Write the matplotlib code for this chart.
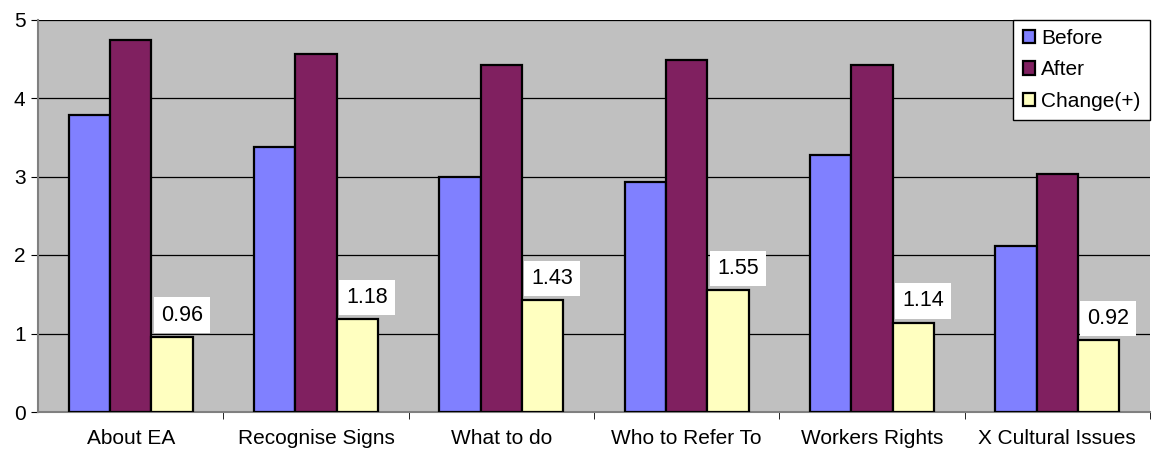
import numpy as np
import matplotlib
matplotlib.use('Agg')
from matplotlib import pyplot as plt

plt.rcParams['font.family'] = ['Liberation Sans', 'DejaVu Sans']

########
# DATA #
########

categories = ['About EA', 'Recognise Signs', 'What to do',
              'Who to Refer To', 'Workers Rights', 'X Cultural Issues']
before = [3.78, 3.38, 2.99, 2.93, 3.28, 2.11]
after = [4.74, 4.56, 4.42, 4.48, 4.42, 3.03]
change = [0.96, 1.18, 1.43, 1.55, 1.14, 0.92]

series_names = ['Before', 'After', 'Change(+)']
colors = ['#8080FF', '#802060', '#FFFFC0']

########
# PLOT #
########

fig = plt.figure(figsize=(11.52, 4.53), dpi=100)
ax = fig.add_axes([38/1152, 41/453, 1112/1152, 392.5/453])
ax.set_facecolor('#C0C0C0')

x = np.arange(len(categories))
w = 0.223
for i, (vals, col, name) in enumerate(zip([before, after, change],
                                            colors, series_names)):
    ax.bar(x + (i - 1) * w, vals, width=w, color=col, edgecolor='black',
           linewidth=1.6, label=name, zorder=3)

# value labels above the change bars
for xi, v in zip(x, change):
    ax.annotate('%.2f' % v, (xi + w, v), xytext=(7, 8),
                textcoords='offset points', ha='center', va='bottom',
                fontsize=15.5,
                bbox=dict(boxstyle='square,pad=0.33', fc='white', ec='none'),
                zorder=4)

ax.set_xlim(-0.5, len(categories) - 0.5)
ax.set_ylim(0, 5)
ax.set_yticks(range(6))
ax.yaxis.grid(True, color='black', linewidth=0.9, zorder=0)
ax.set_axisbelow(True)

# category names centred, ticks at the boundaries
ax.set_xticks(x)
ax.set_xticklabels(categories, fontsize=15)
ax.tick_params(axis='x', length=0, pad=12)
ax.set_xticks(np.arange(len(categories)) + 0.5, minor=True)
ax.tick_params(axis='x', which='minor', length=5, direction='out',
               color='black')
ax.tick_params(axis='y', length=5, direction='out', labelsize=15, pad=4)

for s in ['top', 'right']:
    ax.spines[s].set_visible(False)
ax.spines['left'].set_color('#808080')
ax.spines['left'].set_linewidth(1.5)
ax.spines['bottom'].set_color('#808080')
ax.spines['bottom'].set_linewidth(1.5)

leg = ax.legend(loc='upper right', fontsize=15, frameon=True, fancybox=False,
                framealpha=1, edgecolor='black', handlelength=0.6,
                handleheight=0.6, handletextpad=0.3, borderaxespad=0.0,
                labelspacing=0.6, borderpad=0.45)
leg.get_frame().set_linewidth(1.0)

plt.savefig('out.png', dpi=100)
plt.close()
